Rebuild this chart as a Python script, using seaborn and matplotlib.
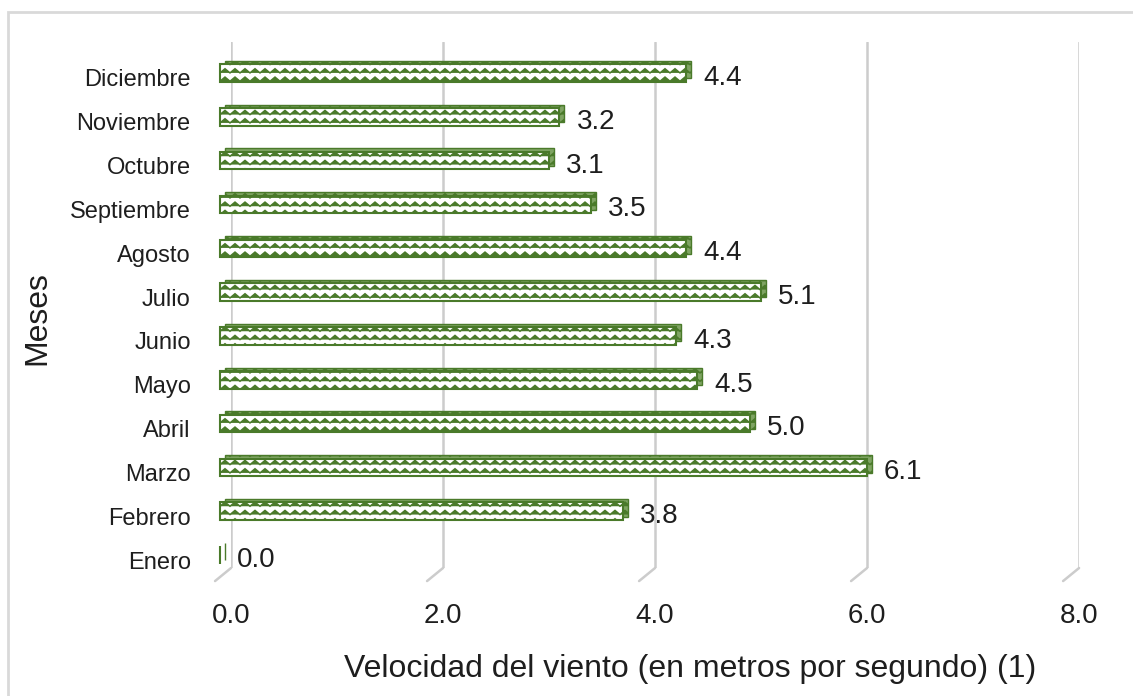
import numpy as np
import pandas as pd
import matplotlib
matplotlib.use("Agg")
import matplotlib.pyplot as plt
import matplotlib.hatch as mhatch
from matplotlib.path import Path
from matplotlib.patches import Rectangle
from matplotlib.transforms import ScaledTranslation
import seaborn as sns

# datos
meses = ['Enero', 'Febrero', 'Marzo', 'Abril', 'Mayo', 'Junio', 'Julio',
         'Agosto', 'Septiembre', 'Octubre', 'Noviembre', 'Diciembre']
velocidad = [0.0, 3.8, 6.1, 5.0, 4.5, 4.3, 5.1, 4.4, 3.5, 3.1, 3.2, 4.4]
xticks = [0, 2, 4, 6, 8]


# zigzag hatch (the '-' hatch gets replaced by wavy rows)
class ZigZagHatch(mhatch.HatchPatternBase):
    def __init__(self, hatch, density):
        self.num_rows = int((hatch.count('-') + hatch.count('+')) * density)
        self.num_teeth = int(round(self.num_rows * 0.85))
        self.num_vertices = self.num_rows * (2 * self.num_teeth + 1)

    def set_vertices_and_codes(self, vertices, codes):
        n = 2 * self.num_teeth + 1
        xs = np.linspace(0.0, 1.0, n)
        amp = 0.25 / self.num_rows
        wiggle = np.where(np.arange(n) % 2 == 0, -amp, amp)
        for r in range(self.num_rows):
            y0 = (r + 0.5) / self.num_rows
            vertices[r * n:(r + 1) * n, 0] = xs
            vertices[r * n:(r + 1) * n, 1] = y0 + wiggle
            codes[r * n] = Path.MOVETO
            codes[r * n + 1:(r + 1) * n] = Path.LINETO


mhatch._hatch_types[:] = [ZigZagHatch if t is mhatch.HorizontalHatch else t
                          for t in mhatch._hatch_types]

sns.set_style("white")
plt.rcParams['font.family'] = ['Liberation Sans', 'DejaVu Sans']
plt.rcParams['hatch.linewidth'] = 1.1

verde = '#4a7a2a'
verde_lado = '#7fa463'
texto = '#1e1e1e'

df = pd.DataFrame({'Mes': meses, 'Velocidad': velocidad})
orden = meses[::-1]

fig = plt.figure(figsize=(11.33, 6.96), dpi=100)
ax = fig.add_axes([0.2039, 0.1839, 0.7485, 0.7557])

# back/side faces of the 3d bars
sns.barplot(data=df, x='Velocidad', y='Mes', order=orden, orient='h',
            color=verde_lado, saturation=1, width=0.4, edgecolor=verde,
            linewidth=1.0, hatch='--', ax=ax)
n_back = len(ax.patches)
# front faces
sns.barplot(data=df, x='Velocidad', y='Mes', order=orden, orient='h',
            color='white', saturation=1, width=0.4, edgecolor=verde,
            linewidth=1.5, hatch='--', ax=ax)

back_off = ScaledTranslation(-0.06, -0.055, fig.dpi_scale_trans)
front_off = ScaledTranslation(-0.11, -0.09, fig.dpi_scale_trans)
for i, p in enumerate(ax.patches):
    p.set_transform(ax.transData + (back_off if i < n_back else front_off))
    p.set_clip_on(False)

ax.set_xlim(0, 8)
ax.set_ylim(11.5, -0.5)
ax.set_xticks(xticks)
ax.set_xticklabels([f"{t:.1f}" for t in xticks])

# value labels
for mes, v in zip(meses, velocidad):
    ax.annotate(f"{v:.1f}", xy=(v, orden.index(mes)), xytext=(4.5, -10),
                textcoords='offset points', va='center', ha='left',
                fontsize=20, color=texto)

# gridlines with the 3d floor slant
ax.xaxis.grid(True, color='#cccccc', linewidth=1.8)
ax.set_axisbelow(True)
for t in xticks:
    ax.annotate('', xy=(t, 0), xycoords=('data', 'axes fraction'),
                xytext=(-11.5, -9.4), textcoords='offset points',
                arrowprops=dict(arrowstyle='-', color='#cccccc', lw=1.8,
                                shrinkA=0, shrinkB=0))

for s in ax.spines.values():
    s.set_visible(False)

ax.tick_params(axis='x', length=0, pad=25, labelsize=20, labelcolor=texto)
ax.tick_params(axis='y', length=0, pad=29, labelsize=17, labelcolor=texto)
for lab in ax.get_yticklabels():
    lab.set_transform(lab.get_transform() +
                      ScaledTranslation(0, -0.14, fig.dpi_scale_trans))

ax.set_xlabel('Velocidad del viento (en metros por segundo) (1)',
              fontsize=23, color=texto)
ax.xaxis.set_label_coords(0.541, -0.164)
ax.set_ylabel('Meses', fontsize=23, color=texto)
ax.yaxis.set_label_coords(-0.211, 0.476)

# frame around the chart area
fig.patches.append(Rectangle((8 / 1133, -0.05), 1.2, 1.05 - 12 / 696,
                             transform=fig.transFigure, fill=False,
                             edgecolor='#d9d9d9', linewidth=2.0))

fig.savefig('out.png', dpi=100)
